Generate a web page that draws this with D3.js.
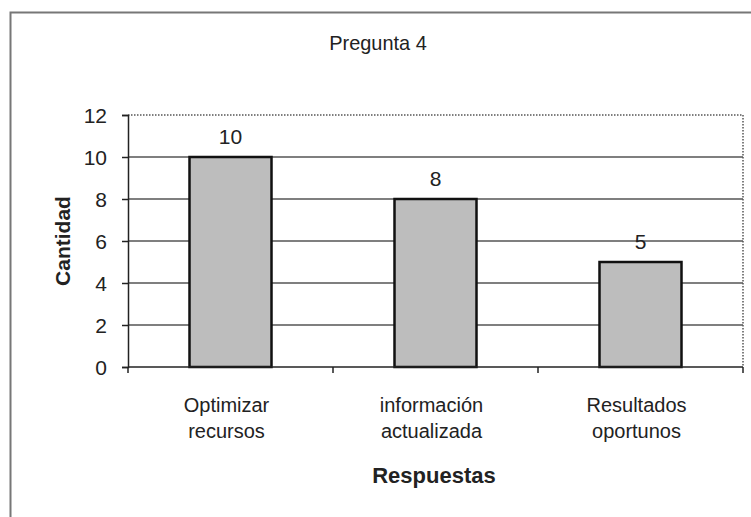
<!DOCTYPE html>
<html>
<head>
<meta charset="utf-8">
<script src="https://cdn.jsdelivr.net/npm/d3@7"></script>
<style>
  body { margin: 0; background: #fff; }
  text { font-family: "Liberation Sans", Arial, sans-serif; fill: #222; }
</style>
</head>
<body>
<svg id="chart" width="751" height="517"></svg>
<script>
const categories = [["Optimizar", "recursos"], ["información", "actualizada"], ["Resultados", "oportunos"]];
const values = [10, 8, 5];
const yTicks = [0, 2, 4, 6, 8, 10, 12];
const title = "Pregunta 4";
const xTitle = "Respuestas";
const yTitle = "Cantidad";

const svg = d3.select("#chart");
const margin = { top: 115, right: 8, bottom: 150, left: 128 };
const width = 751 - margin.left - margin.right;
const height = 517 - margin.top - margin.bottom;

// outer frame (runs off the right and bottom edge)
svg.append("rect")
	.attr("x", 10.5).attr("y", 12.5)
	.attr("width", 800).attr("height", 600)
	.attr("fill", "none")
	.attr("stroke", "#777")
	.attr("stroke-width", 2);

svg.append("text")
	.attr("x", 378).attr("y", 50)
	.attr("text-anchor", "middle")
	.style("font-size", "21px")
	.attr("transform", "translate(378,0) scale(0.95,1) translate(-378,0)")
	.text(title);

const g = svg.append("g").attr("transform", `translate(${margin.left},${margin.top})`);

// Scales
const x = d3.scaleBand().domain(d3.range(values.length)).range([0, width]).padding(0);
const y = d3.scaleLinear().domain([0, 12]).range([height, 0]);

// gridlines
g.selectAll("line.grid")
	.data(yTicks.filter((d) => d > 0 && d < 12))
	.enter()
	.append("line")
	.attr("class", "grid")
	.attr("x1", 0).attr("x2", width)
	.attr("y1", (d) => y(d)).attr("y2", (d) => y(d))
	.attr("stroke", "#555")
	.attr("stroke-width", 1.3);

// dotted plot border top + right
g.append("path")
	.attr("d", `M0,${y(12)}H${width}V${height}`)
	.attr("fill", "none")
	.attr("stroke", "#555")
	.attr("stroke-width", 1.5)
	.attr("stroke-dasharray", "1.5,1.5");

// bars
const barW = x.bandwidth() * 0.4;
g.selectAll("rect.bar")
	.data(values)
	.enter()
	.append("rect")
	.attr("class", "bar")
	.attr("x", (d, i) => x(i) + (x.bandwidth() - barW) / 2)
	.attr("y", (d) => y(d))
	.attr("width", barW)
	.attr("height", (d) => y(0) - y(d))
	.attr("fill", "#bdbdbd")
	.attr("stroke", "#111")
	.attr("stroke-width", 2.5);

// value labels
g.selectAll("text.val")
	.data(values)
	.enter()
	.append("text")
	.attr("class", "val")
	.attr("x", (d, i) => x(i) + x.bandwidth() / 2)
	.attr("y", (d) => y(d) - 13)
	.attr("text-anchor", "middle")
	.style("font-size", "21px")
	.text((d) => d);

// Axes
const yAxis = g.append("g")
	.call(d3.axisLeft(y).tickValues(yTicks).tickSize(6).tickPadding(15));
yAxis.selectAll("text").style("font-size", "21px").attr("fill", "#222").attr("dy", "0.35em");
yAxis.selectAll("line, path").attr("stroke", "#222").attr("stroke-width", 1.5);

const xAxis = g.append("g").attr("transform", `translate(0,${height})`);
xAxis.append("line")
	.attr("x1", 0).attr("x2", width)
	.attr("stroke", "#222").attr("stroke-width", 1.5);
xAxis.selectAll("line.tick")
	.data(d3.range(values.length + 1))
	.enter()
	.append("line")
	.attr("class", "tick")
	.attr("x1", (d) => d * x.step()).attr("x2", (d) => d * x.step())
	.attr("y1", 0).attr("y2", 6)
	.attr("stroke", "#222").attr("stroke-width", 1.5);

const labels = xAxis.selectAll("text.cat")
	.data(categories)
	.enter()
	.append("text")
	.attr("class", "cat")
	.attr("text-anchor", "middle")
	.style("font-size", "20px");
labels.selectAll("tspan")
	.data((d, i) => d.map((t, j) => ({ t, j, i })))
	.enter()
	.append("tspan")
	.attr("x", (d) => x(d.i) + x.bandwidth() / 2 - 4)
	.attr("y", (d) => 45 + d.j * 26)
	.text((d) => d.t);

svg.append("text")
	.attr("x", 434)
	.attr("y", 483)
	.attr("text-anchor", "middle")
	.style("font-size", "22px")
	.style("font-weight", "bold")
	.text(xTitle);

svg.append("text")
	.attr("transform", `translate(70,${margin.top + height / 2}) rotate(-90)`)
	.attr("text-anchor", "middle")
	.style("font-size", "21px")
	.style("font-weight", "bold")
	.text(yTitle);
</script>
</body>
</html>
